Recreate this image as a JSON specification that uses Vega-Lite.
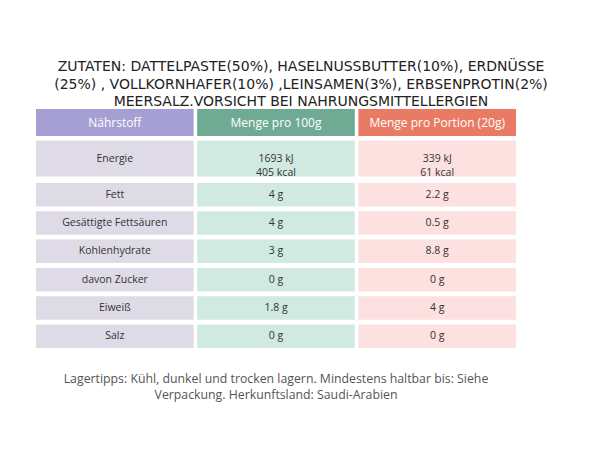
{
  "$schema": "https://vega.github.io/schema/vega-lite/v6.json",
  "background": "white",
  "padding": {"left": 35, "top": 60, "right": 10, "bottom": 10},
  "config": {"view": {"stroke": null}, "font": "Open Sans", "concat": {"spacing": 4.5}, "text": {"lineBreak": "\n"}},
  "title": {
    "text": ["ZUTATEN: DATTELPASTE(50%), HASELNUSSBUTTER(10%), ERDNÜSSE", "(25%) , VOLLKORNHAFER(10%) ,LEINSAMEN(3%), ERBSENPROTIN(2%)", "MEERSALZ.VORSICHT BEI NAHRUNGSMITTELLERGIEN"],
    "fontSize": 14, "fontWeight": "normal", "color": "#222", "anchor": "middle", "dx": 25, "lineHeight": 17.5, "offset": 0, "font": "DejaVu Sans"
  },
  "datasets": {
    "table": [
      {"sec": "head", "item": "head", "col": "a", "text": "Nährstoff"},
      {"sec": "head", "item": "head", "col": "b", "text": "Menge pro 100g"},
      {"sec": "head", "item": "head", "col": "c", "text": "Menge pro Portion (20g)"},
      {"sec": "energy", "item": "Energie", "col": "a", "text": "Energie"},
      {"sec": "energy", "item": "Energie", "col": "b", "text": "1693 kJ\n405 kcal"},
      {"sec": "energy", "item": "Energie", "col": "c", "text": "339 kJ\n61 kcal"},
      {"sec": "rest", "item": "Fett", "col": "a", "text": "Fett"},
      {"sec": "rest", "item": "Fett", "col": "b", "text": "4 g"},
      {"sec": "rest", "item": "Fett", "col": "c", "text": "2.2 g"},
      {"sec": "rest", "item": "Gesättigte Fettsäuren", "col": "a", "text": "Gesättigte Fettsäuren"},
      {"sec": "rest", "item": "Gesättigte Fettsäuren", "col": "b", "text": "4 g"},
      {"sec": "rest", "item": "Gesättigte Fettsäuren", "col": "c", "text": "0.5 g"},
      {"sec": "rest", "item": "Kohlenhydrate", "col": "a", "text": "Kohlenhydrate"},
      {"sec": "rest", "item": "Kohlenhydrate", "col": "b", "text": "3 g"},
      {"sec": "rest", "item": "Kohlenhydrate", "col": "c", "text": "8.8 g"},
      {"sec": "rest", "item": "davon Zucker", "col": "a", "text": "davon Zucker"},
      {"sec": "rest", "item": "davon Zucker", "col": "b", "text": "0 g"},
      {"sec": "rest", "item": "davon Zucker", "col": "c", "text": "0 g"},
      {"sec": "rest", "item": "Eiweiß", "col": "a", "text": "Eiweiß"},
      {"sec": "rest", "item": "Eiweiß", "col": "b", "text": "1.8 g"},
      {"sec": "rest", "item": "Eiweiß", "col": "c", "text": "4 g"},
      {"sec": "rest", "item": "Salz", "col": "a", "text": "Salz"},
      {"sec": "rest", "item": "Salz", "col": "b", "text": "0 g"},
      {"sec": "rest", "item": "Salz", "col": "c", "text": "0 g"}
    ]
  },
  "vconcat": [
    {
      "width": 480, "height": 27,
      "data": {"name": "table"},
      "transform": [{"filter": "datum.sec === 'head'"}],
      "encoding": {
        "x": {"field": "col", "type": "nominal", "axis": null, "scale": {"domain": ["a", "b", "c"], "paddingInner": 0.022, "paddingOuter": 0}},
        "y": {"field": "item", "type": "nominal", "axis": null, "scale": {"paddingInner": 0, "paddingOuter": 0}}
      },
      "layer": [
        {"mark": {"type": "rect"}, "encoding": {"color": {"field": "col", "type": "nominal", "legend": null, "scale": {"domain": ["a", "b", "c"], "range": ["#a59fd4", "#6fab94", "#e97b65"]}}}},
        {"mark": {"type": "text", "fontSize": 12, "color": "white"}, "encoding": {"text": {"field": "text"}}}
      ]
    },
    {
      "width": 480, "height": 36,
      "data": {"name": "table"},
      "transform": [{"filter": "datum.sec === 'energy'"}],
      "encoding": {
        "x": {"field": "col", "type": "nominal", "axis": null, "scale": {"domain": ["a", "b", "c"], "paddingInner": 0.022, "paddingOuter": 0}},
        "y": {"field": "item", "type": "nominal", "axis": null, "scale": {"paddingInner": 0, "paddingOuter": 0}}
      },
      "layer": [
        {"mark": {"type": "rect"}, "encoding": {"color": {"field": "col", "type": "nominal", "legend": null, "scale": {"domain": ["a", "b", "c"], "range": ["#dedbe6", "#d1eae1", "#fde0e0"]}}}},
        {"mark": {"type": "text", "fontSize": 10.5, "color": "#333", "lineHeight": 14}, "encoding": {"text": {"field": "text"}}}
      ]
    },
    {
      "width": 480, "height": 165,
      "title": {
        "text": ["Lagertipps: Kühl, dunkel und trocken lagern. Mindestens haltbar bis: Siehe", "Verpackung. Herkunftsland: Saudi-Arabien"],
        "orient": "bottom", "anchor": "middle", "fontSize": 12.3, "fontWeight": "normal", "color": "#555", "lineHeight": 15.5, "offset": 25, "font": "Open Sans"
      },
      "data": {"name": "table"},
      "transform": [{"filter": "datum.sec === 'rest'"}],
      "encoding": {
        "x": {"field": "col", "type": "nominal", "axis": null, "scale": {"domain": ["a", "b", "c"], "paddingInner": 0.022, "paddingOuter": 0}},
        "y": {"field": "item", "type": "nominal", "axis": null, "sort": ["Fett", "Gesättigte Fettsäuren", "Kohlenhydrate", "davon Zucker", "Eiweiß", "Salz"], "scale": {"paddingInner": 0.17, "paddingOuter": 0}}
      },
      "layer": [
        {"mark": {"type": "rect"}, "encoding": {"color": {"field": "col", "type": "nominal", "legend": null, "scale": {"domain": ["a", "b", "c"], "range": ["#dedbe6", "#d1eae1", "#fde0e0"]}}}},
        {"mark": {"type": "text", "fontSize": 10.5, "color": "#333"}, "encoding": {"text": {"field": "text"}}}
      ]
    }
  ],
  "resolve": {"scale": {"color": "independent", "y": "independent"}}
}
